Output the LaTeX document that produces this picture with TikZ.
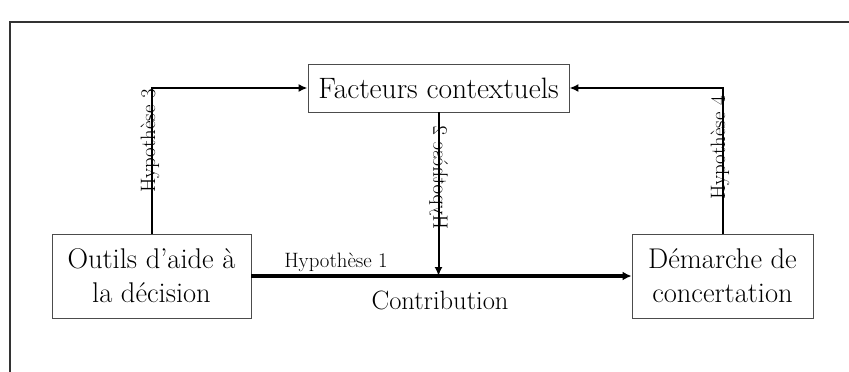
\documentclass[tikz,border=0pt]{standalone}
\usetikzlibrary{arrows.meta}
\begin{document}
\begin{tikzpicture}[x=1pt,y=-1pt,
  box/.style={draw=black!70,line width=0.9pt,inner sep=0pt,align=center,
    font=\fontsize{28.5}{34}\selectfont},
  link/.style={line width=2pt,-{Latex[length=9pt,width=8pt]}},
  thicklink/.style={line width=3.6pt,-{Latex[length=9pt,width=9pt]}},
  hyp/.style={font=\fontsize{20.8}{24}\selectfont,inner sep=0pt},
  lbl/.style={font=\fontsize{26.5}{30}\selectfont,inner sep=0pt}]
\useasboundingbox (0,0) rectangle (849,372);
\draw[black!80,line width=1.2pt] (10,372) -- (10,22) -- (849,22);
\node[hyp,rotate=90] (h3) at (150,141) {Hypothèse 3};
\node[hyp,xscale=-1,rotate=90] (h2) at (438.5,178) {Hypothèse 2};
\node[hyp,rotate=90] (h4) at (720,148) {Hypothèse 4};
\node[box,minimum width=261pt,minimum height=48pt,font=\fontsize{29.5}{34}\selectfont] (fac) at (438.5,88) {Facteurs contextuels};
\node[box,minimum width=199pt,minimum height=84pt] (out) at (151.5,276) {Outils d'aide à\\la décision};
\node[box,minimum width=181pt,minimum height=84pt] (dem) at (722.5,276) {Démarche de\\concertation};
\draw[thicklink] (out.east) -- (dem.west);
\draw[link] (fac.south) -- (fac.south |- out.east);
\draw[link] (out.north) |- (fac.west);
\draw[link] (dem.north) |- (fac.east);
\node[hyp] (h1) at (336,262) {Hypothèse 1};
\node[lbl] (con) at (440,300) {Contribution};
\end{tikzpicture}
\end{document}
